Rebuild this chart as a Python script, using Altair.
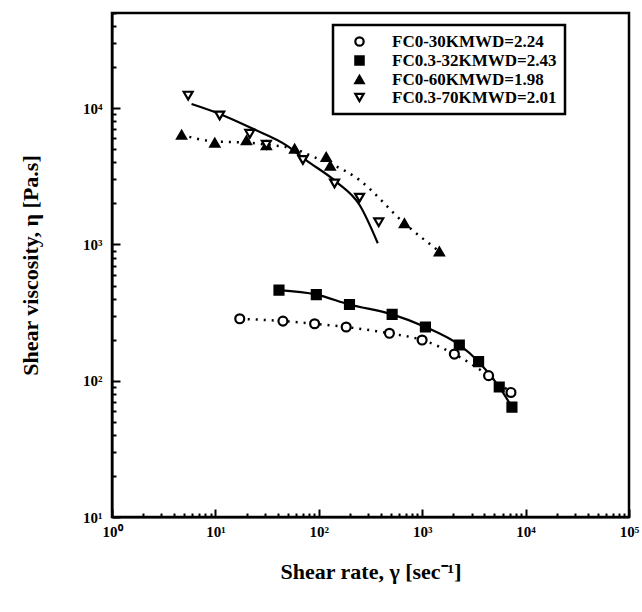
import altair as alt
import pandas as pd

series_names = ["FC0-30KMWD=2.24", "FC0.3-32KMWD=2.43", "FC0-60KMWD=1.98", "FC0.3-70KMWD=2.01"]

# FC0-30K (open circles, dotted line)
c_x = [17.2, 45.0, 91.1, 184, 482, 998, 2046, 4385, 7213]
c_y = [285, 274, 262, 248, 223, 199, 157, 109, 82]
# FC0.3-32K (filled squares, solid line)
s_x = [41.2, 94.6, 198, 512, 1074, 2286, 3511, 5560, 7376]
s_y = [462, 429, 363, 307, 248, 183, 138, 90, 64]
# FC0-60K (filled triangles, dotted fit)
t_x = [4.71, 9.87, 19.95, 31.1, 58.4, 118, 129, 673, 1466]
t_y = [6383, 5580, 5808, 5342, 5045, 4388, 3774, 1430, 889]
# FC0.3-70K (open inverted triangles, solid fit)
v_x = [5.45, 11.0, 21.5, 31.1, 70.2, 142, 248, 380]
v_y = [12380, 8846, 6491, 5398, 4173, 2802, 2203, 1455]

# fitted curves
t_fit_x = [4.71, 9.87, 19.95, 31.1, 58.4, 75.7, 248, 673, 1466]
t_fit_y = [6383, 5700, 5600, 5400, 5045, 4634, 2965, 1430, 889]
v_fit_x = [5.88, 11.0, 23.1, 48.6, 75.7, 147.5, 248, 372]
v_fit_y = [10740, 9080, 7063, 5345, 4150, 2884, 1950, 1022]

x_ticks = [m * 10 ** e for e in range(0, 5) for m in range(1, 10)] + [100000]
y_ticks = [m * 10 ** e for e in range(1, 5) for m in range(1, 10) if m * 10 ** e <= 50000]

pts = pd.DataFrame({
    "x": c_x + s_x + t_x + v_x,
    "y": c_y + s_y + t_y + v_y,
    "series": [series_names[0]] * len(c_x) + [series_names[1]] * len(s_x)
              + [series_names[2]] * len(t_x) + [series_names[3]] * len(v_x),
})

FONT = "Liberation Serif"
is_major = "abs(log(datum.value)/LN10 - round(log(datum.value)/LN10)) < 0.01"
lab_expr = ("(" + is_major + ") ? '10' + ['\u2070','\u00b9','\u00b2','\u00b3','\u2074','\u2075']"
            "[round(log(datum.value)/LN10)] : ''")
minor_dash = {"condition": {"test": "!(" + is_major + ")", "value": [4, 100]}, "value": []}

xs = alt.Scale(type="log", domain=[1, 100000], nice=False)
ys = alt.Scale(type="log", domain=[10, 50000], nice=False)

common = dict(
    labelExpr=lab_expr, titleFont=FONT, titleFontSize=22, titleFontWeight="bold", titleColor="black",
    labelFont=FONT, labelFontSize=15, labelFontWeight="bold", labelColor="black",
    labelOverlap=False, labelFlush=False, grid=False,
    domainColor="black", domainWidth=2, tickColor="black", tickWidth=2,
    tickSize={"expr": "-8"}, tickDash=minor_dash,
)
x_axis = alt.Axis(values=x_ticks, title="Shear rate, \u03b3  [sec\u207b\u00b9]",
                  titlePadding=22, labelPadding=15, **common)
y_axis = alt.Axis(values=y_ticks, title="Shear viscosity, \u03b7 [Pa.s]",
                  titlePadding=40, labelPadding=18, **common)

X = alt.X("x:Q", scale=xs, axis=x_axis)
Y = alt.Y("y:Q", scale=ys, axis=y_axis)

line_c = alt.Chart(pd.DataFrame({"x": c_x, "y": c_y})).mark_line(
    color="black", strokeWidth=2.5, strokeDash=[2, 6], interpolate="monotone"
).encode(x=X, y=Y)
line_s = alt.Chart(pd.DataFrame({"x": s_x, "y": s_y})).mark_line(
    color="black", strokeWidth=2.2, interpolate="monotone"
).encode(x=X, y=Y)
line_t = alt.Chart(pd.DataFrame({"x": t_fit_x, "y": t_fit_y})).mark_line(
    color="black", strokeWidth=2.5, strokeDash=[2, 6], interpolate="monotone"
).encode(x=X, y=Y)
line_v = alt.Chart(pd.DataFrame({"x": v_fit_x, "y": v_fit_y})).mark_line(
    color="black", strokeWidth=2.2, interpolate="monotone"
).encode(x=X, y=Y)

leg = alt.Legend(
    title=None, orient="none", legendX=221, legendY=12,
    padding=8, strokeColor="black", fillColor="white",
    labelFont=FONT, labelFontSize=17, labelFontWeight="bold", labelColor="black",
    symbolSize=70, symbolStrokeWidth=2.2, symbolStrokeColor="black", symbolOffset=10,
    labelOffset=24, rowPadding=0, labelLimit=400,
)
points = alt.Chart(pts).mark_point(
    strokeWidth=2.2, opacity=1, filled=False, size=80
).encode(
    x=X, y=Y,
    shape=alt.Shape("series:N", scale=alt.Scale(
        domain=series_names, range=["circle", "square", "triangle-up", "triangle-down"]), legend=leg),
    fill=alt.Fill("series:N", scale=alt.Scale(
        domain=series_names, range=["white", "black", "black", "white"]), legend=leg),
    stroke=alt.Stroke("series:N", scale=alt.Scale(
        domain=series_names, range=["black", "black", "black", "black"]), legend=leg),
)

chart = alt.layer(line_c, line_s, line_t, line_v, points).properties(
    width=517, height=504, background="white",
    autosize=alt.AutoSizeParams(type="none"),
    padding={"left": 112, "top": 13, "right": 13, "bottom": 95},
).configure_view(
    stroke="black", strokeWidth=2.5
).configure_legend(
    strokeWidth=2.5,
)

chart.save("out.html", embed_options={"renderer": "svg", "actions": False})
